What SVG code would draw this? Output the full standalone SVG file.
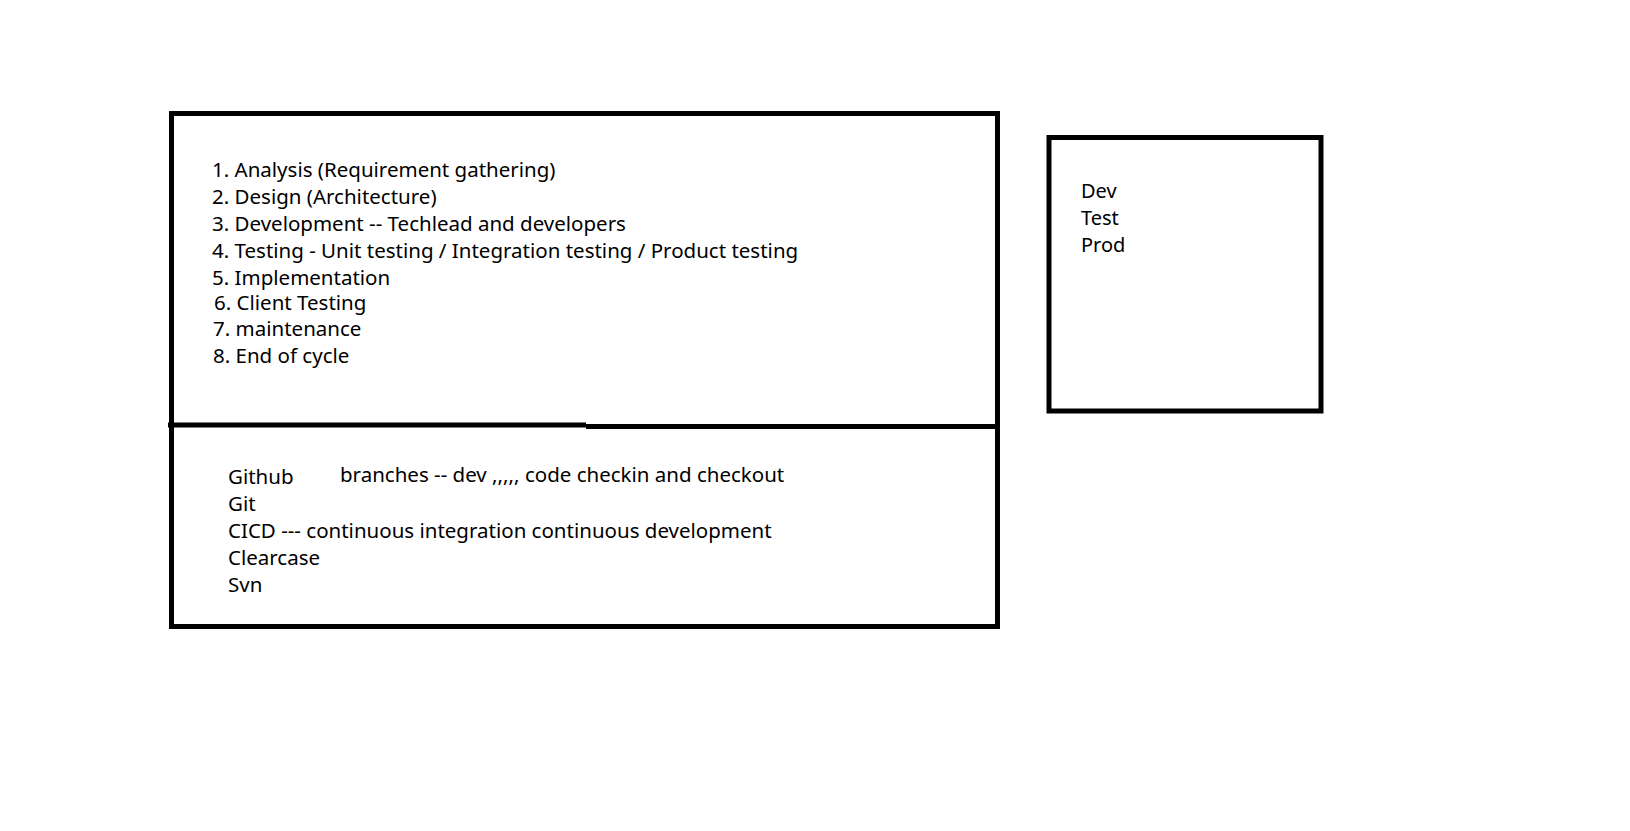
<svg xmlns="http://www.w3.org/2000/svg" width="1630" height="831" viewBox="0 0 1630 831">
<style>
.box{fill:none;stroke:#000;stroke-width:5}
.t{font-family:"Noto Sans","Open Sans","Liberation Sans",sans-serif;font-size:20.5px;fill:#000}
.t2{font-family:"Noto Sans","Open Sans","Liberation Sans",sans-serif;font-size:20px;fill:#000}
</style>
<rect width="1630" height="831" fill="#fff"/>
<g id="sdlc-box">
<rect class="box" x="171.5" y="113.5" width="826" height="513"/>
<line class="box" x1="168" y1="425" x2="586" y2="425"/>
<line class="box" x1="586" y1="426.5" x2="998" y2="426.5"/>
<g class="t">
<text x="212" y="177">1. Analysis (Requirement gathering)</text>
<text x="212" y="204">2. Design (Architecture)</text>
<text x="212" y="231">3. Development -- Techlead and developers</text>
<text x="212" y="258">4. Testing - Unit testing / Integration testing / Product testing</text>
<text x="212" y="285">5. Implementation</text>
<text x="214" y="310">6. Client Testing</text>
<text x="213" y="336">7. maintenance</text>
<text x="213" y="363">8. End of cycle</text>
</g>
</g>
<g id="tools-box" class="t">
<text x="228" y="484">Github</text>
<text x="340" y="482">branches -- dev ,,,,, code checkin and checkout</text>
<text x="228" y="511">Git</text>
<text x="228" y="538">CICD --- continuous integration continuous development</text>
<text x="228" y="565">Clearcase</text>
<text x="228" y="592">Svn</text>
</g>
<g id="env-box">
<rect class="box" x="1049" y="137.5" width="272" height="273.5"/>
<g class="t2">
<text x="1081" y="198">Dev</text>
<text x="1081" y="225">Test</text>
<text x="1081" y="252">Prod</text>
</g>
</g>
</svg>
